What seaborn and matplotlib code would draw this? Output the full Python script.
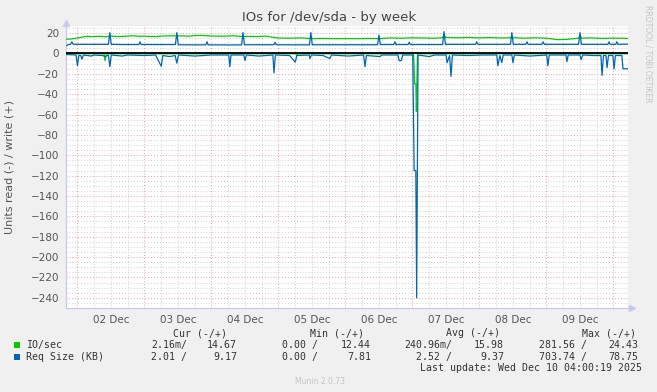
import pandas as pd
import matplotlib
matplotlib.use('Agg')
import matplotlib.pyplot as plt
import seaborn as sns

# time axis: hours since 02 Dec 00:00
day_labels = ['02 Dec', '03 Dec', '04 Dec', '05 Dec', '06 Dec', '07 Dec', '08 Dec', '09 Dec']

# IO/sec write (+)
io_w_h = [-4, -2, 0, 3.4, 5, 8, 10, 12, 14, 16, 20, 22, 24, 28, 30, 32, 36, 40, 42, 44, 48, 52, 56, 58,
          60, 64, 68, 70, 72, 76, 80, 84, 88, 92, 96, 100, 104, 108, 112, 116, 120, 124, 128, 130.8,
          131.3, 131.8, 136, 140, 144, 148, 152, 156, 160, 164, 168, 172, 175, 178, 179.5, 180,
          180.5, 184, 188, 192, 196, 197.2]
io_w_v = [14.0, 14.3, 15.2, 16.9, 16.6, 16.9, 16.4, 17.2, 16.7, 16.8, 17.4, 16.9, 17.0, 16.6, 17.1, 17.3,
          17.4, 17.0, 17.6, 17.8, 17.2, 17.0, 17.4, 16.9, 16.8, 16.7, 17.0, 15.8, 15.2, 15.0, 15.3,
          14.6, 14.8, 14.5, 14.7, 14.5, 14.8, 14.6, 15.3, 15.0, 15.4, 15.2, 15.0, 15.5, 18.6, 15.8,
          15.4, 15.7, 15.3, 15.6, 15.2, 15.6, 15.0, 15.4, 15.0, 13.6, 13.8, 14.6, 15.0, 17.6, 15.0,
          15.3, 14.8, 15.1, 14.9, 14.7]

# IO/sec read (-)
io_r_h = [-4, 9.5, 9.9, 10.3, 78.2, 78.6, 79.0, 120.4, 120.8, 121.2, 121.4, 121.8, 197.2]
io_r_v = [-0.3, -0.3, -7.0, -0.3, -0.3, -2.0, -0.3, -0.3, -30.0, -30.0, -57.0, -0.3, -0.3]

# Req Size (KB) write (+)
rq_w_h = [-4, -3, -2.5, -2, -1.5, 4, 11.1, 11.6, 12.1, 16, 22, 22.4, 22.8, 30, 35.1, 35.6, 36.1,
          40, 46, 46.4, 46.8, 54, 58.8, 59.3, 59.8, 66, 70.4, 70.8, 71.2, 78, 83.1, 83.6, 84.1,
          96, 107.5, 108, 108.5, 113.3, 113.7, 114.1, 118.4, 118.8, 119.2, 125, 130.8, 131.3,
          131.8, 137, 142.6, 143, 143.4, 150, 155.1, 155.6, 156.1, 160.6, 161, 161.4, 166.4,
          166.8, 167.2, 174, 179.5, 180, 180.5, 190, 190.4, 190.8, 192.8, 193.2, 193.6, 197.2]
rq_w_v = [7.8, 8.8, 9.0, 11.5, 9.0, 9.0, 9.0, 20.5, 9.0, 8.8, 8.8, 11.5, 8.8, 8.8, 8.8, 20.5, 8.6,
          8.5, 8.5, 11.5, 8.5, 8.4, 8.4, 20.5, 8.6, 8.6, 8.6, 11.0, 8.6, 8.5, 8.5, 20.5, 8.6,
          8.6, 8.6, 18.0, 8.8, 8.8, 11.5, 8.8, 8.8, 11.0, 8.8, 8.8, 8.8, 21.5,
          9.0, 9.0, 9.0, 11.5, 9.0, 9.0, 9.0, 20.5, 9.0, 9.0, 11.5, 9.0, 9.0,
          11.5, 9.0, 9.0, 9.0, 20.5, 9.0, 9.0, 11.5, 9.0, 9.0, 11.5, 9.0, 9.2]

# Req Size (KB) read (-)
rq_r_h = [-4, -0.5, 0, 0.5, 1.2, 1.6, 2.2, 5, 6, 9, 10, 11.1, 11.6, 12.1, 16, 18, 24, 28, 30, 30.6,
          33, 35, 35.6, 36.2, 42, 48, 54.2, 54.6, 55, 59.6, 60, 60.5, 65, 70, 70.4, 70.9, 76, 78,
          78.6, 83, 83.3, 83.8, 88, 90.4, 91, 97, 102.5, 103, 103.5, 108.4, 109, 114.8, 115.2,
          116, 116.5, 120.1, 120.6, 121.2, 121.5, 122, 126, 128, 132, 132.4, 133.3, 133.8, 134.3,
          140, 145, 150.2, 150.6, 151.3, 152, 152.5, 155.6, 156, 156.5, 162, 168.1, 168.5, 169,
          175, 175.3, 175.8, 180, 180.4, 181, 185, 187.5, 187.9, 188.4, 189.3, 189.7, 190.2,
          191.8, 192.2, 192.7, 195, 195.4, 197.2]
rq_r_v = [-1.0, -1.5, -12.0, -2.0, -2.0, -5.5, -1.5, -2.5, -1.5, -2.0, -3.0, -1.5, -13.0, -1.5, -2.5,
          -1.5, -2.0, -1.5, -12.5, -2.0, -3.0, -2.0, -9.5, -1.5, -2.5, -1.5, -1.5, -13.0, -1.5, -1.5,
          -7.0, -1.5, -2.5, -1.5, -19.0, -1.5, -2.0, -8.5, -2.0, -1.5, -5.0, -1.5, -2.0, -5.0, -1.5,
          -2.5, -1.5, -13.0, -2.0, -3.0, -1.5, -1.5, -7.0, -7.0, -1.5, -1.5, -115.0, -115.0, -240.0,
          -1.5, -3.0, -1.5, -1.5, -9.0, -2.0, -22.5, -1.5, -2.0, -1.5, -1.5, -12.0, -2.0, -9.0,
          -1.5, -1.5, -9.0, -1.5, -2.5, -1.5, -12.0, -1.5, -1.5, -8.0, -1.5, -1.5, -6.0, -1.5,
          -2.0, -2.0, -21.5, -2.0, -2.0, -14.0, -2.0, -2.0, -15.0, -2.0, -2.0, -15.0, -15.0]

legend_rows = [
    ('IO/sec', '#00cc00', ['2.16m/', '14.67', '0.00 /', '12.44', '240.96m/', '15.98', '281.56 /', '24.43']),
    ('Req Size (KB)', '#0066b3', ['2.01 /', '9.17', '0.00 /', '7.81', '2.52 /', '9.37', '703.74 /', '78.75']),
]
legend_heads = ['Cur (-/+)', 'Min (-/+)', 'Avg (-/+)', 'Max (-/+)']

frames = []
for name, h, v in [('io_w', io_w_h, io_w_v), ('io_r', io_r_h, io_r_v),
                   ('rq_w', rq_w_h, rq_w_v), ('rq_r', rq_r_h, rq_r_v)]:
    frames.append(pd.DataFrame({'hour': h, 'value': v, 'line': name}))
df = pd.concat(frames, ignore_index=True)

sns.set_theme(style='white')
plt.rcParams['font.family'] = ['DejaVu Sans']

W, H = 657, 392
fig = plt.figure(figsize=(6.57, 3.92), dpi=100, facecolor='#f0f0f0')
ax = fig.add_axes([66 / W, 1 - 308 / H, (628 - 66) / W, (308 - 26) / H])
ax.set_facecolor('#ffffff')

ax.set_xlim(-4.1, 197.2)
ax.set_ylim(-250, 27)

# grid: red dotted at midnights / every 20, grey dotted at 6h / every 5
for hh in range(0, 198, 6):
    col = '#eca0a0' if hh % 24 == 0 else '#cfcfcf'
    ax.axvline(hh, color=col, lw=0.7, ls=(0, (1, 2)), zorder=0)
for yy in range(-245, 27, 5):
    col = '#eca0a0' if yy % 20 == 0 else '#cfcfcf'
    ax.axhline(yy, color=col, lw=0.7, ls=(0, (1, 2)), zorder=0)

sns.lineplot(data=df, x='hour', y='value', hue='line',
             hue_order=['io_w', 'io_r', 'rq_w', 'rq_r'],
             palette={'io_w': '#00cc00', 'io_r': '#00cc00', 'rq_w': '#0066b3', 'rq_r': '#0066b3'},
             estimator=None, sort=False, legend=False, linewidth=0.9, ax=ax, zorder=3)
ax.axhline(0, color='black', lw=1.3, zorder=4)

ax.set_xlabel('')
ax.set_ylabel('')
ax.set_xticks([12 + 24 * i for i in range(len(day_labels))])
ax.set_xticklabels(day_labels)
ax.set_yticks(list(range(-240, 21, 20)))
ax.tick_params(axis='both', length=0, labelsize=7.5, colors='#555555')
ax.tick_params(axis='x', pad=5)
ax.tick_params(axis='y', pad=5)

for s in ['top', 'right']:
    ax.spines[s].set_visible(False)
for s in ['left', 'bottom']:
    ax.spines[s].set_color('#c8c8f0')
    ax.spines[s].set_linewidth(0.9)
ax.plot([0], [1.012], marker='^', ms=5, color='#c8c8f0', transform=ax.transAxes, clip_on=False)
ax.plot([1.008], [0], marker='>', ms=5, color='#c8c8f0', transform=ax.transAxes, clip_on=False)

def fx(px):
    return px / W

def fy(py):
    return 1 - py / H

fig.text(fx(329), fy(18), 'IOs for /dev/sda - by week', ha='center', va='center',
         fontsize=9.5, color='#444444')
fig.text(fx(10), fy(167), 'Units read (-) / write (+)', rotation=90, ha='center', va='center',
         fontsize=8, color='#555555')
fig.text(fx(648), fy(5), 'RRDTOOL / TOBI OETIKER', rotation=270, ha='center', va='top',
         fontsize=5.5, color='#c4c4c4')
fig.text(fx(320), fy(382), 'Munin 2.0.73', ha='center', va='center', fontsize=5.5, color='#c4c4c4')

mono = dict(family='DejaVu Sans Mono', fontsize=7.1, color='#333333', va='center')
head_ends = [227, 364, 500, 636]
for head, xe in zip(legend_heads, head_ends):
    fig.text(fx(xe), fy(333), head, ha='right', **mono)
col_ends = [187, 237, 318, 371, 452, 504, 587, 638]
for (name, color, vals), ry in zip(legend_rows, [345, 357]):
    fig.patches.append(plt.Rectangle((fx(14), fy(ry + 3)), 6 / W, 6 / H, transform=fig.transFigure,
                                     facecolor=color, edgecolor='none'))
    fig.text(fx(26), fy(ry), name, ha='left', **mono)
    for val, xe in zip(vals, col_ends):
        fig.text(fx(xe), fy(ry), val, ha='right', **mono)
fig.text(fx(642), fy(368), 'Last update: Wed Dec 10 04:00:19 2025', ha='right', **mono)

fig.savefig('out.png', dpi=100, facecolor='#f0f0f0')
